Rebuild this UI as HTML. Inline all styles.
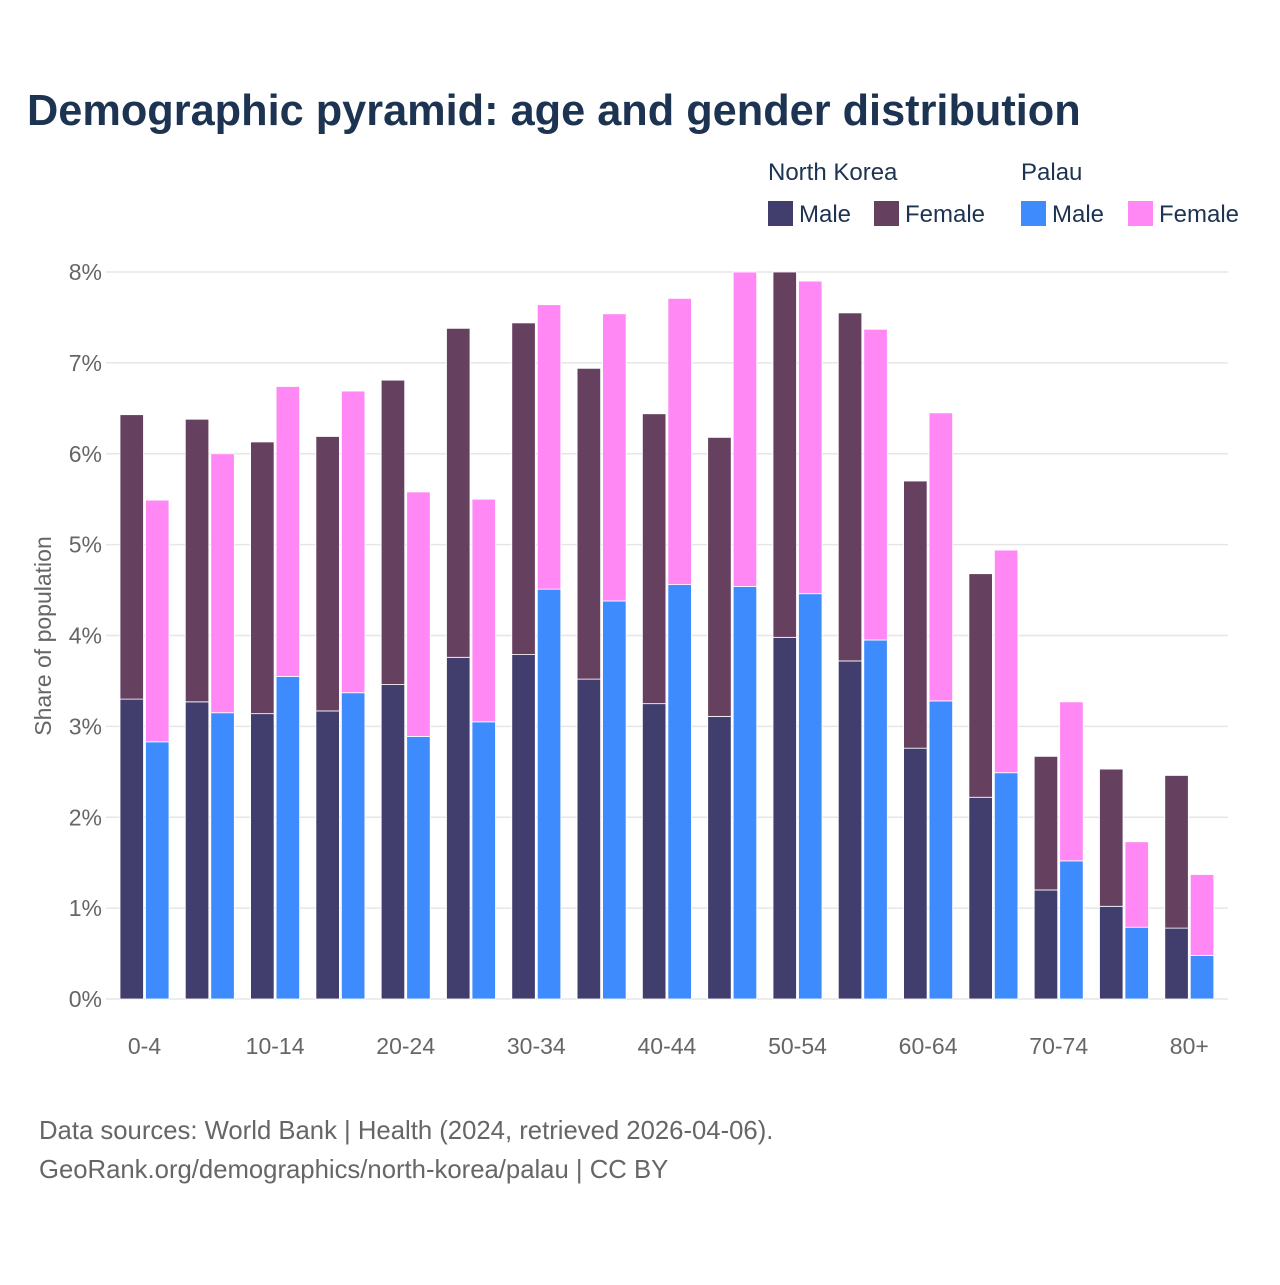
<!DOCTYPE html>
<html><head><meta charset="utf-8"><style>
body{margin:0;background:#fff;font-family:"Liberation Sans",sans-serif;}
svg text{font-family:"Liberation Sans",sans-serif;}
</style></head><body>
<svg id="chart" width="1280" height="1280" viewBox="0 0 1280 1280">
<text x="27" y="125" font-size="43.3" font-weight="bold" fill="#1d3352">Demographic pyramid: age and gender distribution</text>
<g font-size="24" fill="#1d3352">
<text x="768" y="180">North Korea</text>
<text x="1021" y="180">Palau</text>
<g><rect x="768" y="201" width="25" height="25" fill="#413e6e"/><text x="799" y="222">Male</text></g>
<g><rect x="874" y="201" width="25" height="25" fill="#66405f"/><text x="905" y="222">Female</text></g>
<g><rect x="1021" y="201" width="25" height="25" fill="#3d8bfd"/><text x="1052" y="222">Male</text></g>
<g><rect x="1128" y="201" width="25" height="25" fill="#ff88f5"/><text x="1159" y="222">Female</text></g>
</g>
<g id="grid"></g><g id="bars"></g><g id="xlabels"></g>
<text transform="translate(51,636) rotate(-90)" text-anchor="middle" font-size="23" fill="#666">Share of population</text>
<text x="39" y="1139" font-size="25.7" fill="#666">Data sources: World Bank | Health (2024, retrieved 2026-04-06).</text>
<text x="39" y="1178" font-size="25.7" fill="#666">GeoRank.org/demographics/north-korea/palau | CC BY</text>
</svg>
<script>
const categories=["0-4","5-9","10-14","15-19","20-24","25-29","30-34","35-39","40-44","45-49","50-54","55-59","60-64","65-69","70-74","75-79","80+"];
const nkMale=[3.30,3.27,3.14,3.17,3.46,3.76,3.79,3.52,3.25,3.11,3.98,3.72,2.76,2.22,1.20,1.02,0.78];
const nkFemale=[3.13,3.11,2.99,3.02,3.35,3.62,3.65,3.42,3.19,3.07,4.02,3.83,2.94,2.46,1.47,1.51,1.68];
const plMale=[2.83,3.15,3.55,3.37,2.89,3.05,4.51,4.38,4.56,4.54,4.46,3.95,3.28,2.49,1.52,0.79,0.48];
const plFemale=[2.66,2.85,3.19,3.32,2.69,2.45,3.13,3.16,3.15,3.46,3.44,3.42,3.17,2.45,1.75,0.94,0.89];
const yTicks=[0,1,2,3,4,5,6,7,8];
const NS="http://www.w3.org/2000/svg";
const y=v=>999-v*90.875;
const gx=i=>120+i*65.3;
function mk(tag,attrs,parent){const e=document.createElementNS(NS,tag);for(const k in attrs)e.setAttribute(k,attrs[k]);parent.appendChild(e);return e;}
const grid=document.getElementById('grid'),bars=document.getElementById('bars'),xl=document.getElementById('xlabels');
yTicks.forEach(t=>{
 const l=mk('line',{x1:106,x2:1228,y1:y(t),y2:y(t),stroke:'#e6e6e6','stroke-width':1.5},grid);
 
 
 const tx=mk('text',{x:102,y:y(t)+8,'text-anchor':'end','font-size':23,fill:'#666'},grid);
 tx.textContent=t+'%';
 
 
});
function bar(x,v0,v1,c,name){
 const r=mk('rect',{x:x,y:y(v1),width:23.5,height:y(v0)-y(v1),fill:c,stroke:'#fff','stroke-width':0.8},bars);
 
 
}
categories.forEach((c,i)=>{
 const x=gx(i);
 bar(x,0,nkMale[i],'#413e6e','bar-nk-male-'+c);
 bar(x,nkMale[i],nkMale[i]+nkFemale[i],'#66405f','bar-nk-female-'+c);
 bar(x+25.5,0,plMale[i],'#3d8bfd','bar-palau-male-'+c);
 bar(x+25.5,plMale[i],plMale[i]+plFemale[i],'#ff88f5','bar-palau-female-'+c);
 if(i%2===0){
  const t=mk('text',{x:x+24.5,y:1054,'text-anchor':'middle','font-size':23,fill:'#666'},xl);
  t.textContent=c;
  
  
 }
});
</script>
</body></html>
